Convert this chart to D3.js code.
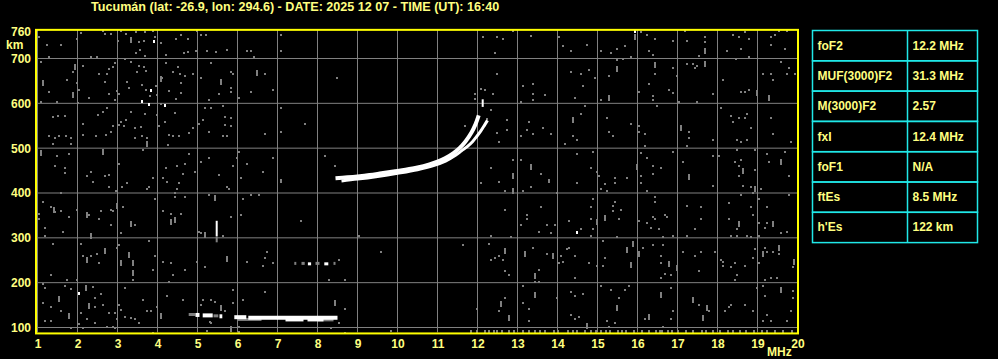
<!DOCTYPE html>
<html>
<head>
<meta charset="utf-8">
<title>Ionogram Tucumán</title>
<script src="https://cdn.jsdelivr.net/npm/d3@7"></script>
<style>
  body { margin: 0; background: #000; }
  svg text { font-family: "Liberation Sans", Arial, sans-serif; font-weight: bold; fill: #ffff80; }
</style>
</head>
<body>
<svg id="chart"></svg>
<script>
// ---- data ----
const title = 'Tucumán (lat: -26.9, lon: 294.6) - DATE: 2025 12 07 - TIME (UT): 16:40'
const freqTicks = [1,2,3,4,5,6,7,8,9,10,11,12,13,14,15,16,17,18,19,20]
const heightTicks = [100,200,300,400,500,600,700,760]
const heightGrid = [100,200,300,400,500,600,700]
const heightLimits = [89, 765]

const paramNames = ['foF2','MUF(3000)F2','M(3000)F2','fxI','foF1','ftEs',"h'Es"]
const paramValues = ['12.2 MHz','31.3 MHz','2.57','12.4 MHz','N/A','8.5 MHz','122 km']

// F2 layer traces [MHz, km]
const oTrace = [[8.45,433],[8.75,435],[9.0,437],[9.3,440],[9.6,444],[9.9,448],[10.2,452],[10.5,457],[10.8,464],[11.0,470],[11.2,478],[11.4,489],[11.55,500],[11.7,515],[11.85,535],[11.95,553],[12.03,573]]
const xTrace = [[8.6,427],[9.0,431],[9.5,437],[10.0,444],[10.5,452],[10.9,461],[11.2,471],[11.45,484],[11.6,494],[11.75,504],[11.88,515],[11.98,526],[12.08,538],[12.18,552],[12.25,562]]
// sporadic E and its echo: [fStart, fEnd, km]
const esWhite = [[4.95,5.05,128],[5.13,5.38,127],[5.55,5.62,125],[5.92,6.22,123],[6.27,8.5,122],[7.2,7.65,118],[7.75,8.15,118]]
const esGray = [[4.78,4.95,129],[5.4,5.52,126],[6.0,6.6,118],[8.0,8.4,117]]
const echoWhite = [[7.76,7.84,242],[8.17,8.27,242]]
const echoGray = [[7.42,7.47,243],[7.6,7.68,243],[7.95,8.05,243],[8.4,8.45,243]]
// vertical spikes: [MHz, kmLow, kmHigh]
const spikesWhite = [[5.48,304,338],[12.13,592,609]]
const spikesGray = [[5.48,290,304]]

// background noise [MHz, km]
const noise = [
  [1.03,749],[1.23,731],[1.59,731],[1.28,703],[2.08,757],[1.98,743],[2.63,762],[2.69,754],[2.83,754],[3.0,739],[3.08,762],[3.22,755],[3.45,759],[3.53,736],[3.68,760],[3.65,740],[3.88,762],[3.93,748],[4.08,734],[3.55,719],[3.45,712],[3.18,700],[3.68,706],[4.22,708],[4.47,743],[4.6,752],[4.77,743],[4.65,713],[4.76,715],[4.97,717],[4.99,762],[5.09,752],[5.2,752],[5.23,716],[5.45,715],[5.73,719],[6.23,716],[6.34,716],[6.4,704],[7.09,753],[7.09,717],[2.34,703],[2.48,703],
  [1.08,693],[1.28,625],[1.48,603],[1.09,603],[1.73,652],[1.88,670],[1.98,646],[2.03,629],[2.01,601],[2.13,684],[2.28,611],[2.53,666],[2.73,666],[2.78,676],[2.69,648],[2.88,682],[2.93,689],[2.78,620],[2.98,628],[3.03,620],[2.93,607],[3.23,648],[3.28,634],[3.34,693],[3.48,669],[3.53,684],[3.65,682],[3.7,672],[3.6,640],[3.72,629],[3.8,616],[3.97,639],[3.98,619],[4.09,598],[4.12,656],[4.2,689],[4.3,628],[4.38,669],[4.5,680],[4.57,665],[4.58,645],[4.58,624],[4.47,609],[4.68,661],[4.88,665],[5.08,656],[5.34,689],[5.28,607],[5.53,620],[5.83,669],[5.88,665],[5.84,634],[5.84,625],[6.03,611],[6.33,625],[6.68,665],[6.88,630],[8.48,656],
  [1.38,570],[1.51,572],[1.68,572],[1.28,528],[1.43,523],[1.54,527],[1.7,528],[1.83,522],[1.83,509],[1.38,509],[2.13,553],[2.13,530],[2.45,527],[2.51,575],[2.63,581],[2.73,590],[2.7,530],[2.83,536],[2.88,549],[3.03,551],[3.08,558],[3.15,549],[3.2,563],[3.34,581],[3.43,545],[3.43,522],[3.58,548],[3.68,576],[3.6,527],[3.73,522],[3.98,573],[4.03,549],[4.18,558],[4.3,530],[4.38,528],[4.27,507],[4.53,527],[4.43,579],[4.78,534],[4.88,546],[5.03,553],[5.13,562],[5.18,590],[5.33,590],[5.63,593],[5.68,569],[5.83,568],[5.68,552],[5.83,549],[5.28,536],[5.63,527],[5.73,527],[6.68,531],[7.09,590],[7.09,536],[7.68,553],
  [1.48,482],[1.78,486],[1.43,461],[1.68,455],[1.68,445],[2.23,437],[2.34,446],[2.68,437],[2.78,441],[3.03,464],[3.63,496],[3.88,433],[4.13,433],[4.2,455],[4.48,460],[4.63,442],[4.68,465],[4.78,486],[4.93,446],[5.08,469],[5.28,478],[5.53,441],[5.88,460],[5.98,478],[6.03,491],[6.23,464],[6.08,433],[6.63,446],[6.88,478],[7.09,428],[8.18,482],[8.43,460],
  [12.88,762],[12.13,749],[12.48,749],[12.63,743],[12.43,712],[13.33,751],[14.03,749],[14.13,728],[14.33,717],[14.73,731],[15.08,717],[15.33,712],[15.48,721],[15.68,727],[15.83,703],[16.08,760],[16.23,752],[16.43,743],[16.28,717],[16.38,708],[16.88,739],[17.18,762],[17.23,739],[17.68,749],[17.68,736],[17.53,706],[18.23,717],[18.38,752],[18.53,749],[18.68,760],[18.78,743],[18.58,721],[18.78,703],[19.33,749],[19.43,752],[19.33,730],[19.53,762],[19.73,762],[19.68,721],[18.47,698],
  [12.48,666],[12.08,633],[11.93,620],[12.18,630],[11.93,610],[12.38,620],[13.13,639],[13.38,643],[13.38,620],[13.38,607],[13.68,618],[13.08,603],[14.33,670],[14.58,666],[14.78,675],[14.93,656],[14.63,639],[14.43,612],[15.28,661],[15.08,607],[15.48,697],[15.63,698],[16.03,625],[16.28,643],[16.38,616],[16.38,607],[16.43,666],[16.78,630],[16.88,679],[16.88,622],[16.98,661],[17.03,603],[17.23,688],[17.38,688],[17.43,679],[17.48,684],[17.48,603],[17.88,620],[18.13,652],[18.58,625],[18.68,625],[18.78,630],[19.13,665],[19.33,666],[19.38,652],[19.73,666],[19.78,679],[19.93,666],[19.58,693],
  [12.33,585],[12.23,564],[12.73,563],[12.48,534],[12.73,540],[12.53,513],[11.68,549],[13.28,558],[13.23,540],[13.08,527],[13.38,531],[13.63,545],[13.83,531],[14.38,527],[14.48,518],[14.58,576],[14.68,594],[14.18,509],[15.23,567],[15.28,536],[15.38,527],[15.83,553],[16.03,549],[16.03,536],[16.18,531],[16.48,594],[17.28,536],[17.28,522],[17.23,504],[17.88,518],[18.08,590],[18.33,572],[18.38,558],[18.53,567],[18.68,567],[18.73,576],[18.83,545],[18.48,518],[18.58,513],[18.73,518],[19.33,567],[19.38,531],[19.83,513],
  [12.33,455],[12.88,473],[13.08,473],[13.58,442],[13.78,430],[14.48,487],[14.83,455],[14.88,491],[14.98,446],[15.03,437],[15.43,433],[15.73,433],[16.08,490],[16.18,505],[16.23,478],[16.38,460],[16.38,442],[16.58,455],[16.08,437],[16.88,491],[17.13,469],[17.88,482],[18.03,482],[18.48,495],[18.43,469],[18.58,473],[18.53,460],[18.53,437],[18.93,495],[18.93,451],[19.23,487],[19.28,469],[19.68,491],[19.78,437],
  [2.38,424],[2.78,413],[2.95,404],[3.1,413],[3.23,422],[3.78,413],[3.73,408],[4.23,424],[4.48,408],[4.43,401],[4.53,422],[5.73,413],[5.78,408],[7.08,424],
  [1.13,381],[1.03,354],[1.03,341],[1.18,323],[1.18,305],[1.34,368],[1.43,357],[1.58,359],[1.58,399],[1.78,346],[1.63,314],[1.98,363],[2.28,350],[2.53,341],[2.58,359],[2.83,363],[2.88,359],[2.83,328],[3.13,368],[3.08,310],[3.43,328],[3.93,386],[4.13,359],[4.33,354],[4.58,354],[4.43,390],[4.68,390],[5.28,395],[5.03,314],[5.08,310],[5.63,305],[5.84,346],[6.08,350],[6.13,386],[6.33,395],[6.53,395],[7.58,337],[9.03,305],
  [1.38,287],[2.08,287],[2.13,260],[2.33,260],[2.48,265],[2.53,243],[2.98,278],[3.03,283],[3.78,292],[3.93,260],[3.88,229],[4.13,247],[4.33,243],[4.68,229],[4.38,216],[4.28,202],[4.98,247],[5.18,234],[6.23,247],[6.63,238],[6.68,254],[6.73,269],[6.88,243],[8.53,251],[8.28,207],[8.68,207],[9.58,269],[1.33,216],[1.73,207],[1.98,205],[3.38,205],
  [1.13,196],[1.18,189],[1.68,193],[1.83,185],[2.38,190],[2.58,175],[3.18,189],[1.13,154],[1.33,146],[1.58,137],[1.18,114],[1.33,114],[1.83,98],[2.43,165],[2.43,146],[2.63,150],[2.08,132],[2.23,120],[2.43,110],[2.03,108],[2.78,132],[2.93,132],[2.98,120],[2.73,102],[2.88,102],[3.03,151],[3.08,138],[3.18,123],[3.33,122],[3.43,119],[3.53,110],[3.73,137],[3.83,137],[3.98,145],[4.23,171],[5.08,150],[5.43,157],[5.68,137],[5.88,184],[5.88,155],[6.68,180],[8.68,141],[8.53,110],[5.3,113],[5.33,110],[6.03,102],[6.03,89],[5.23,92],[3.88,88],[8.33,98],[9.83,92],[8.68,88],[2.93,99],[2.13,99],
  [3.63,162],[4.63,162],[5.13,162],[5.33,162],[6.13,162],
  [12.08,422],[12.53,424],[12.68,404],[13.13,404],[13.33,413],[13.78,424],[13.98,401],[14.48,422],[15.08,408],[15.18,420],[15.23,404],[15.43,422],[16.08,422],[16.23,404],[17.88,416],[18.63,416],[18.83,413],[19.08,408],[18.88,399],
  [11.63,283],[12.68,363],[12.33,305],[12.83,301],[13.23,350],[13.23,341],[13.08,328],[13.58,368],[13.53,314],[13.73,328],[13.83,310],[13.93,328],[14.28,337],[14.58,319],[14.83,368],[14.88,386],[14.83,341],[14.88,319],[14.83,305],[15.38,372],[15.43,381],[15.38,359],[15.58,363],[15.53,341],[15.48,301],[16.03,337],[16.23,332],[16.38,346],[16.43,341],[16.43,390],[16.43,381],[16.33,323],[16.53,319],[16.68,350],[16.73,346],[16.63,301],[16.88,305],[17.23,372],[17.43,319],[17.58,368],[17.58,341],[17.23,305],[18.28,377],[18.28,341],[18.48,319],[18.33,305],[18.48,305],[18.73,305],[18.58,395],[18.83,368],[18.88,350],[19.03,386],[19.23,368],[19.03,332],[19.18,323],[19.23,332],[19.03,305],[18.83,302],[19.58,310],[19.73,314],[19.78,395],
  [12.28,287],[12.53,260],[12.63,251],[12.43,256],[12.33,251],[12.68,225],[12.78,216],[13.38,278],[13.53,229],[13.43,202],[13.53,202],[13.73,265],[14.03,243],[14.13,247],[14.08,260],[14.23,274],[14.28,278],[14.43,260],[14.43,211],[14.78,243],[14.98,238],[15.13,293],[15.18,256],[15.13,238],[16.13,278],[16.38,283],[16.63,283],[16.58,260],[16.58,243],[16.68,220],[16.58,211],[16.83,216],[17.13,269],[17.43,260],[17.58,269],[17.53,225],[17.93,269],[18.08,251],[18.13,247],[18.13,238],[18.33,234],[18.43,243],[18.48,216],[18.43,207],[18.68,238],[18.93,274],[18.88,256],[19.03,243],[19.18,278],[19.23,269],[19.38,269],[19.53,265],[19.18,207],[19.33,211],[19.48,211],[19.88,234],
  [11.98,141],[12.68,166],[12.53,137],[13.13,193],[13.13,154],[13.28,141],[13.28,114],[13.98,166],[14.33,180],[14.43,171],[14.63,175],[14.33,128],[14.43,119],[14.53,123],[15.08,193],[15.33,184],[15.53,166],[15.68,184],[15.78,193],[15.23,114],[15.43,110],[15.28,101],[16.18,119],[16.83,189],[16.88,137],[16.83,119],[16.63,101],[17.53,150],[17.78,137],[18.28,146],[18.33,150],[18.18,137],[18.68,150],[18.88,137],[18.98,189],[19.18,171],[19.13,192],[19.23,128],[19.13,114],[19.33,114],[19.88,181],[19.88,166],[19.83,137],[19.73,114]
]
// taller noise streaks [MHz, top km]
const streaks = [[3.34,745],[1.93,686],[1.88,622],[1.13,650],[6.48,672],[1.08,493],[2.63,495],[3.73,514],[4.1,658],[5.58,652],[17.68,722],[17.68,693],[15.48,680],[16.43,690],[18.98,627],[19.28,616],[15.28,616],[17.08,549],[14.38,567],[12.88,443],[13.33,463],[15.98,463],[17.28,440],[18.63,454],[19.58,473],[1.4,367],[2.23,356],[2.33,308],[2.98,375],[3.33,335],[4.33,340],[4.43,344],[5.43,393],[5.18,311],[2.23,256],[2.68,274],[3.08,249],[3.28,266],[3.38,249],[3.38,225],[5.73,257],[2.2,193],[1.53,168],[1.78,129],[2.28,153],[4.08,129],[5.58,148],[8.43,160],[5.83,102],[12.88,410],[18.93,413],[14.98,340],[15.18,349],[18.53,335],[19.38,335],[12.68,274],[13.18,268],[13.43,219],[13.88,263],[15.73,277],[15.88,290],[15.83,243],[16.03,268],[16.78,246],[16.98,237],[19.13,268],[19.53,281],[19.92,250],[12.58,156],[12.78,125],[13.43,177],[14.73,107],[15.48,148],[16.28,128],[16.58,177],[17.38,166],[17.63,125],[17.73,148],[19.58,187],[15.93,752]]
// noise along the lowest heights
const floorNoise = [11.83,11.98,12.2,12.28,12.4,12.48,12.6,12.78,12.9,13.13,13.28,13.43,13.55,13.68,13.9,14.0,14.25,14.38,14.5,14.68,14.85,14.95,15.08,15.2,15.3,15.5,15.6,15.72,15.9,16.1,16.28,16.45,16.55,16.62,16.75,16.85,17.0,17.2,17.38,17.6,17.72,17.88,18.05,18.25,18.38,18.55,18.7,18.92,19.1,19.25,19.45,19.65,19.85]
const floorHeight = 93
const whiteNoise = [[3.9,739],[3.84,630],[3.78,598],[4.18,597],[3.6,606],[2.03,177],[14.48,314],[15.93,762]]

// ---- drawing ----
const w = 998, h = 359
const svg = d3.select('#chart').attr('width', w).attr('height', h).style('background', '#000')

const xScale = d3.scaleLinear().domain([1, 20]).range([37.5, 797.5])
const yScale = d3.scaleLinear().domain([100, 700]).range([327.5, 58.5])
const yTop = yScale(heightLimits[1]), yBot = yScale(heightLimits[0])

// title
svg.append('text')
  .attr('x', 91).attr('y', 11)
  .style('font-size', '12.6px')
  .text(title)

// grid
const grid = svg.append('g').attr('stroke', '#808080').attr('stroke-width', 1)
grid.selectAll('.vgrid').data(freqTicks).enter().append('line')
  .attr('x1', d => xScale(d)).attr('x2', d => xScale(d))
  .attr('y1', yTop).attr('y2', yBot)
grid.selectAll('.hgrid').data(heightGrid).enter().append('line')
  .attr('x1', xScale(1) - 1).attr('x2', xScale(20) + 1)
  .attr('y1', d => yScale(d)).attr('y2', d => yScale(d))

// noise
const px = f => Math.round(xScale(f)) - 1
const py = v => Math.round(yScale(v)) - 1
const noiseG = svg.append('g').attr('fill', '#808080')
noiseG.selectAll('.n').data(noise).enter().append('rect')
  .attr('x', d => px(d[0])).attr('y', d => py(d[1])).attr('width', 2).attr('height', 2)
noiseG.selectAll('.s').data(streaks).enter().append('rect')
  .attr('x', d => px(d[0])).attr('y', d => py(d[1])).attr('width', 2).attr('height', 6)
noiseG.selectAll('.f').data(floorNoise).enter().append('rect')
  .attr('x', d => px(d)).attr('y', py(floorHeight)).attr('width', 2).attr('height', 4)
svg.append('g').attr('fill', '#fff').selectAll('rect').data(whiteNoise).enter().append('rect')
  .attr('x', d => px(d[0])).attr('y', d => py(d[1])).attr('width', 2).attr('height', 3)

// traces
const line = d3.line().x(d => xScale(d[0])).y(d => yScale(d[1])).curve(d3.curveCatmullRom)
svg.append('path').datum(xTrace).attr('d', line)
  .attr('fill', 'none').attr('stroke', '#fff').attr('stroke-width', 3)
svg.append('path').datum(oTrace).attr('d', line)
  .attr('fill', 'none').attr('stroke', '#fff').attr('stroke-width', 4)

function segments(data, color, width) {
  svg.append('g').attr('stroke', color).attr('stroke-width', width)
    .selectAll('line').data(data).enter().append('line')
    .attr('x1', d => xScale(d[0])).attr('x2', d => xScale(d[1]))
    .attr('y1', d => yScale(d[2])).attr('y2', d => yScale(d[2]))
}
segments(esGray, '#808080', 3)
segments(esWhite, '#fff', 4)
segments(echoGray, '#808080', 3)
segments(echoWhite, '#fff', 3)

function spikes(data, color) {
  svg.append('g').attr('stroke', color).attr('stroke-width', 2)
    .selectAll('line').data(data).enter().append('line')
    .attr('x1', d => xScale(d[0])).attr('x2', d => xScale(d[0]))
    .attr('y1', d => yScale(d[1])).attr('y2', d => yScale(d[2]))
}
spikes(spikesGray, '#808080')
spikes(spikesWhite, '#fff')

// frame
svg.append('rect')
  .attr('x', xScale(1) - 1.5).attr('y', yTop + 0.5)
  .attr('width', xScale(20) - xScale(1) + 2).attr('height', yBot - yTop + 0.5)
  .attr('fill', 'none').attr('stroke', '#ffff00').attr('stroke-width', 2)

// axes
const xAxis = d3.axisBottom(xScale).tickValues(freqTicks).tickSize(0).tickPadding(7).tickFormat(d3.format('d'))
svg.append('g').attr('transform', `translate(0, ${yBot + 0.5})`).call(xAxis)
  .call(g => g.select('.domain').remove())
const yAxis = d3.axisLeft(yScale).tickValues(heightTicks).tickSize(0).tickPadding(5)
svg.append('g').attr('transform', `translate(${xScale(1) - 1.5}, 0)`).call(yAxis)
  .call(g => g.select('.domain').remove())
svg.selectAll('.tick text').attr('fill', null).style('font-size', '12px')
svg.append('text').attr('x', 6).attr('y', 49).style('font-size', '12px').text('km')
svg.append('text').attr('x', 767).attr('y', 356).style('font-size', '12px').text('MHz')

// parameter table
const tx0 = 812.5, tx1 = 977.5, tcol = 907.5, ty0 = 30.5, rowH = 30.3
const table = svg.append('g')
table.selectAll('.row').data(paramNames).enter().append('rect')
  .attr('x', tx0).attr('y', (d, i) => ty0 + i * rowH)
  .attr('width', tx1 - tx0).attr('height', rowH)
  .attr('fill', 'none').attr('stroke', '#20e8e8').attr('stroke-width', 1.5)
table.append('line').attr('x1', tcol).attr('x2', tcol)
  .attr('y1', ty0).attr('y2', ty0 + paramNames.length * rowH)
  .attr('stroke', '#20e8e8').attr('stroke-width', 1.5)
table.selectAll('.name').data(paramNames).enter().append('text')
  .attr('x', tx0 + 5).attr('y', (d, i) => ty0 + i * rowH + rowH / 2 + 4)
  .style('font-size', '12px').text(d => d)
table.selectAll('.val').data(paramValues).enter().append('text')
  .attr('x', tcol + 5).attr('y', (d, i) => ty0 + i * rowH + rowH / 2 + 4)
  .style('font-size', '12px').text(d => d)
</script>
</body>
</html>
